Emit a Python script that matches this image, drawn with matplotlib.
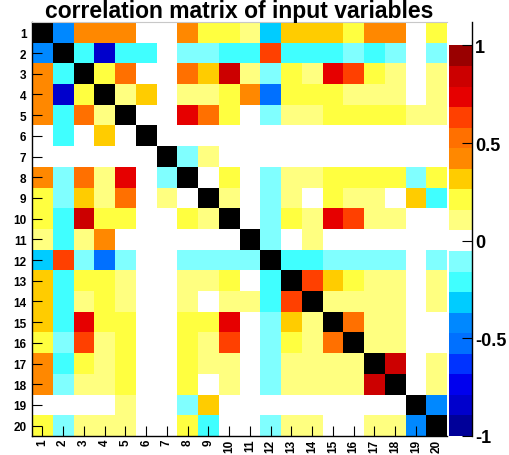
import numpy as np
import matplotlib
matplotlib.use("Agg")
import matplotlib.pyplot as plt
from matplotlib.colors import ListedColormap, BoundaryNorm

plt.rcParams['font.family'] = ['Liberation Sans', 'DejaVu Sans']

variables = [str(i) for i in range(1, 21)]

# upper triangle of the correlation matrix, row i holds columns i+1..20
upper = [
    [-0.42, 0.42, 0.42, 0.42, 0, 0, 0.42, 0.2, 0.2, 0.1, -0.32, 0.32, 0.32, 0.32, 0.2, 0.42, 0.42, 0, 0.2],
    [-0.2, -0.84, -0.2, -0.2, 0, -0.1, -0.1, -0.2, -0.2, 0.63, -0.2, -0.2, -0.2, -0.1, -0.2, -0.1, 0, -0.1],
    [0.2, 0.53, 0, 0, 0.53, 0.32, 0.84, 0.1, -0.1, 0.2, 0.1, 0.74, 0.63, 0.2, 0.1, 0, 0.1],
    [0.1, 0.32, 0, 0.1, 0.1, 0.2, 0.42, -0.53, 0.2, 0.2, 0.2, 0.1, 0.1, 0.1, 0, 0.1],
    [0, 0, 0.74, 0.53, 0.2, 0, -0.1, 0.1, 0.1, 0.2, 0.2, 0.2, 0.2, 0.1, 0.1],
    [0, 0, 0, 0, 0, 0, 0, 0, 0, 0, 0, 0, 0, 0],
    [-0.1, 0.1, 0, 0, 0, 0, 0, 0, 0, 0, 0, 0, 0],
    [0, 0.2, 0, -0.1, 0.1, 0.1, 0.2, 0.2, 0.2, 0.2, -0.1, 0.2],
    [0.1, 0, -0.1, 0.1, 0, 0.2, 0.1, 0.1, 0, 0.32, -0.2],
    [0, -0.1, 0.2, 0.1, 0.74, 0.63, 0.1, 0.1, 0, 0],
    [-0.1, 0, 0.1, 0, 0, 0, 0, 0, 0],
    [-0.2, -0.2, -0.1, -0.1, -0.1, -0.1, 0, -0.1],
    [0.63, 0.32, 0.2, 0.1, 0.1, 0, 0.1],
    [0.1, 0.1, 0.1, 0.1, 0, 0.1],
    [0.53, 0.1, 0.1, 0, 0],
    [0.1, 0.1, 0, 0],
    [0.84, 0, 0.1],
    [0, 0.1],
    [-0.42],
]

palette = ['#000099', '#0000CC', '#0000EE', '#0033FF', '#0070FF', '#0088FF',
           '#00CCFF', '#40FFFF', '#80FFFF', '#FFFFFF', '#FFFF80', '#FFFF40',
           '#FFCC00', '#FF8800', '#FF7000', '#FF4000', '#E60000', '#CC0000',
           '#990000']

n = len(variables)
corr = np.eye(n) * 1.05  # diagonal sits above the scale -> drawn black
for i, row in enumerate(upper):
    for k, v in enumerate(row):
        j = i + 1 + k
        corr[i, j] = v
        corr[j, i] = v

cmap = ListedColormap(palette)
cmap.set_over('black')
levels = np.linspace(-1, 1, len(palette) + 1)
norm = BoundaryNorm(levels, cmap.N)

W, H = 510, 456
fig = plt.figure(figsize=(W / 100, H / 100), dpi=100)
ax = fig.add_axes([32 / W, 19 / H, 415 / W, 414 / H])

edges = np.arange(n + 1) + 0.5
ax.pcolormesh(edges, edges, corr, cmap=cmap, norm=norm)
ax.set_xlim(0.5, n + 0.5)
ax.set_ylim(n + 0.5, 0.5)

pos = np.arange(1, n + 1)
ax.set_xticks(pos)
ax.set_xticklabels(variables, rotation=90, fontsize=8.5, fontweight='bold')
ax.set_yticks(pos)
ax.set_yticklabels(variables, fontsize=8.5, fontweight='bold')
ax.tick_params(axis='both', direction='in', length=7, width=0.8, color='black')
ax.tick_params(axis='x', pad=2)
ax.tick_params(axis='y', pad=4)
ax.spines['right'].set_visible(False)
ax.spines['top'].set_color('#c8c8c8')
ax.spines['left'].set_linewidth(1.0)
ax.spines['bottom'].set_linewidth(1.0)

ax.set_title('correlation matrix of input variables', fontsize=16.5,
             fontweight='bold', pad=2)

# palette axis
cax = fig.add_axes([449 / W, 19 / H, 23 / W, 414 / H])
cax.pcolormesh([0, 1], levels, ((levels[:-1] + levels[1:]) / 2)[:, None],
               cmap=cmap, norm=norm)
cax.set_xlim(0, 1)
cax.set_ylim(-1, 1.12)
cax.set_xticks([])
cax.yaxis.tick_right()
cax.set_yticks([-1, -0.5, 0, 0.5, 1])
cax.set_yticklabels(['-1', '-0.5', '0', '0.5', '1'], fontsize=13, fontweight='bold')
cax.tick_params(axis='y', direction='in', length=7, width=0.8, pad=2)
for side in ['left', 'top', 'bottom']:
    cax.spines[side].set_visible(False)
cax.spines['right'].set_linewidth(1.0)

fig.savefig('out.png', dpi=100)
